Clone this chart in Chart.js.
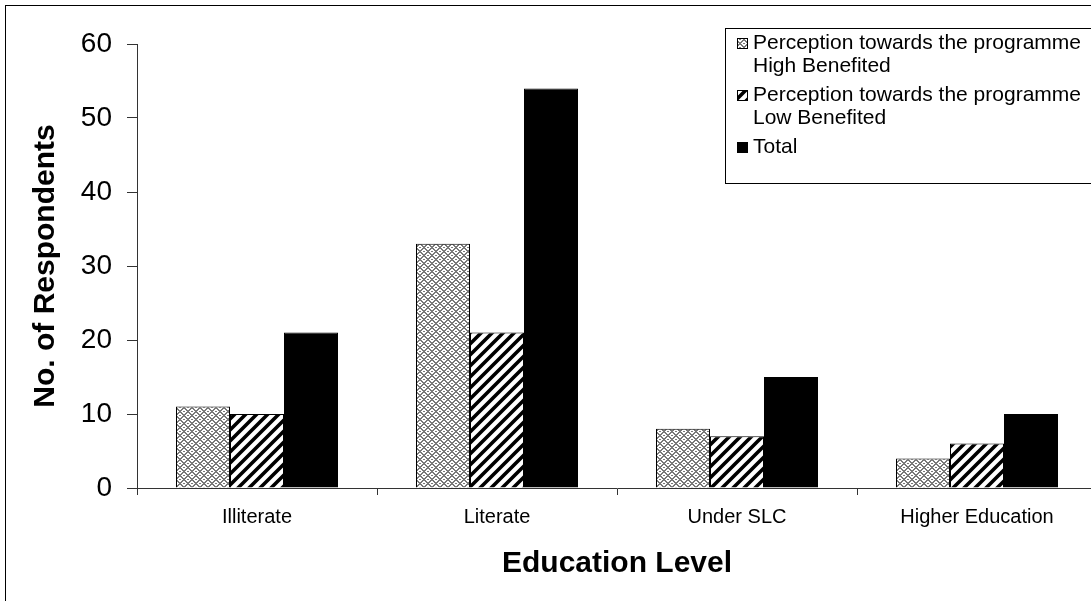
<!DOCTYPE html>
<html>
<head>
<meta charset="utf-8">
<title>Education Level</title>
<script src="https://cdn.jsdelivr.net/npm/chart.js@4.4.1/dist/chart.umd.min.js"></script>
<style>
    html, body {
        margin: 0;
        padding: 0;
        overflow: hidden;
        background: #ffffff;
    }

    #chart-container {
        position: relative;
        width: 1100px;
        height: 601px;
    }
</style>
</head>
<body>
<div id="chart-container">
    <canvas id="chart"></canvas>
</div>
<script>
    const categories = ["Illiterate", "Literate", "Under SLC", "Higher Education"];

    const highBenefited = [11, 33, 8, 4];
    const lowBenefited  = [10, 21, 7, 6];
    const totals        = [21, 54, 15, 10];

    const seriesNames = [
        ["Perception towards the programme", "High Benefited"],
        ["Perception towards the programme", "Low Benefited"],
        ["Total"],
    ];

    const yTicks = [0, 10, 20, 30, 40, 50, 60];

    const FONT = "'Liberation Sans', Arial, sans-serif";

    /**
     * Builds the grey herringbone fill, pixel by pixel.
     *
     * @returns {CanvasPattern}
     */
    function weavePattern()
    {
        const rows = [
            "11000011",
            "01100110",
            "00111100",
            "10011001",
            "00111100",
            "01100110",
            "11000011",
            "10011001",
        ];

        const tile = document.createElement("canvas");
        tile.width  = 8;
        tile.height = rows.length;

        const ctx = tile.getContext("2d");
        ctx.fillStyle = "#ffffff";
        ctx.fillRect(0, 0, tile.width, tile.height);

        ctx.fillStyle = "#7a7a7a";
        rows.forEach((row, y) => {
            [...row].forEach((bit, x) => {
                if (bit === "1") {
                    ctx.fillRect(x, y, 1, 1);
                }
            });
        });

        return ctx.createPattern(tile, "repeat");
    }

    /**
     * Builds the black diagonal stripe fill.
     *
     * @returns {CanvasPattern}
     */
    function stripePattern()
    {
        const size = 11;
        const tile = document.createElement("canvas");
        tile.width  = size;
        tile.height = size;

        const ctx = tile.getContext("2d");
        ctx.fillStyle = "#ffffff";
        ctx.fillRect(0, 0, size, size);

        ctx.strokeStyle = "#000000";
        ctx.lineWidth   = 3.6;
        ctx.beginPath();
        ctx.moveTo(-size, size);
        ctx.lineTo(size, -size);
        ctx.moveTo(0, size);
        ctx.lineTo(size, 0);
        ctx.moveTo(0, size * 2);
        ctx.lineTo(size * 2, 0);
        ctx.stroke();

        return ctx.createPattern(tile, "repeat");
    }

    const fills = [weavePattern(), stripePattern(), "#000000"];

    /**
     * Draws the outer frame and the boxed legend.
     */
    const frameAndLegend = {
        id: "frameAndLegend",
        afterDraw(chart)
        {
            const ctx = chart.ctx;

            ctx.save();
            ctx.strokeStyle = "#000000";
            ctx.lineWidth   = 1;
            ctx.strokeRect(5.5, 5.5, chart.width + 20, chart.height + 20);

            // legend box
            ctx.fillStyle = "#ffffff";
            ctx.fillRect(726, 28, 400, 155);
            ctx.strokeRect(725.5, 28.5, 400, 155);

            ctx.font         = "21px " + FONT;
            ctx.textBaseline = "middle";
            ctx.textAlign    = "left";

            let y = 43;

            seriesNames.forEach((lines, i) => {
                ctx.fillStyle = fills[i];
                ctx.fillRect(737, y - 5, 11, 11);
                ctx.strokeStyle = "#000000";
                ctx.strokeRect(737.5, y - 4.5, 10, 10);

                ctx.fillStyle = "#000000";
                lines.forEach((line, j) => {
                    ctx.fillText(line, 753, y + j * 23);
                });

                y += lines.length * 23 + 6;
            });

            ctx.restore();
        },
    };

    new Chart(document.getElementById("chart"), {
        type: "bar",
        data: {
            labels: categories,
            datasets: [
                {
                    label: seriesNames[0].join(" "),
                    data: highBenefited,
                    backgroundColor: fills[0],
                    borderColor: "#000000",
                    borderWidth: 1,
                },
                {
                    label: seriesNames[1].join(" "),
                    data: lowBenefited,
                    backgroundColor: fills[1],
                    borderColor: "#000000",
                    borderWidth: 1,
                },
                {
                    label: seriesNames[2].join(" "),
                    data: totals,
                    backgroundColor: fills[2],
                    borderColor: "#000000",
                    borderWidth: 1,
                },
            ],
        },
        options: {
            responsive: true,
            maintainAspectRatio: false,
            animation: false,
            layout: {
                padding: { top: 44, right: 3, bottom: 0, left: 0 },
            },
            datasets: {
                bar: {
                    barPercentage: 1,
                    categoryPercentage: 0.675,
                },
            },
            plugins: {
                legend: { display: false },
                tooltip: { enabled: false },
            },
            scales: {
                x: {
                    grid: {
                        offset: true,
                        drawOnChartArea: false,
                        drawTicks: true,
                        tickLength: 7,
                        color: "#333333",
                    },
                    border: { color: "#333333", width: 1 },
                    ticks: {
                        color: "#000000",
                        font: { family: FONT, size: 20 },
                        padding: 10,
                        maxRotation: 0,
                    },
                    title: {
                        display: true,
                        text: "Education Level",
                        color: "#000000",
                        font: { family: FONT, size: 30, weight: "bold" },
                        padding: { top: 0, bottom: 19 },
                    },
                    afterFit(scale) {
                        scale.height = 113;
                    },
                },
                y: {
                    min: yTicks[0],
                    max: yTicks[yTicks.length - 1],
                    afterBuildTicks(scale) {
                        scale.ticks = yTicks.map((v) => ({ value: v }));
                    },
                    grid: {
                        drawOnChartArea: false,
                        drawTicks: true,
                        tickLength: 10,
                        color: "#333333",
                    },
                    border: { color: "#333333", width: 1 },
                    ticks: {
                        color: "#000000",
                        font: { family: FONT, size: 28 },
                        padding: 15,
                    },
                    title: {
                        display: true,
                        text: "No. of Respondents",
                        color: "#000000",
                        font: { family: FONT, size: 30, weight: "bold" },
                        padding: { top: 28, bottom: 0 },
                    },
                    afterFit(scale) {
                        scale.width = 137;
                    },
                },
            },
        },
        plugins: [frameAndLegend],
    });
</script>
</body>
</html>
